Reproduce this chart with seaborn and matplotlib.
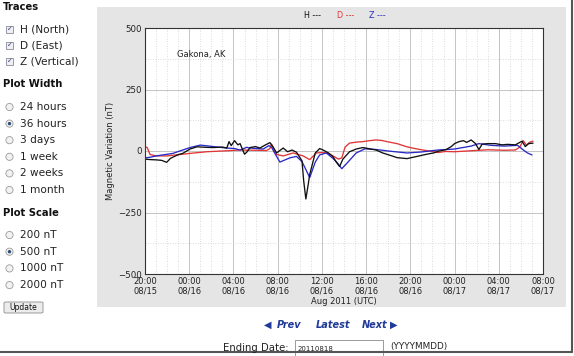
import numpy as np
import pandas as pd
import matplotlib
matplotlib.use("Agg")
import matplotlib.pyplot as plt
import seaborn as sns
from matplotlib.patches import Rectangle, Ellipse, FancyBboxPatch
from matplotlib.lines import Line2D

sns.set_theme(style="white")
plt.rcParams['font.family'] = ['DejaVu Sans']

# ---------------- data (hours since 2011-08-15 20:00 UTC, nT) ----------------
h_hours = [0.0, 0.5, 1.0, 1.5, 1.96, 2.3, 3.0, 3.4, 4.07, 4.7, 5.5, 6.2, 7.0, 7.4, 7.6, 7.8,
           8.1, 8.4, 8.6, 9.0, 9.2, 9.5, 10.0, 10.4, 10.9, 11.3, 11.6, 11.9, 12.5, 12.9,
           13.3, 13.7, 14.2, 14.35, 14.55, 14.75, 14.9, 15.4, 15.8, 16.2, 16.6, 17.0,
           17.3, 17.6, 17.9, 18.5, 19.1, 19.7, 20.3, 20.9, 21.5, 22.2, 22.8, 23.7, 24.3,
           25.0, 25.6, 26.1, 26.6, 27.2, 27.7, 28.0, 28.4, 28.8, 29.1, 29.5, 29.9, 30.2,
           30.5, 31.0, 31.7, 32.3, 32.8, 33.5, 34.1, 34.4, 34.7, 35.1]
h_values = [-33, -35, -36, -38, -46, -30, -15, -10, 8, 17, 15, 14, 16, 12, 38, 22,
            42, 25, 30, -13, -5, 14, 18, 12, 25, 34, 15, -8, 12, -3,
            4, -5, -40, -120, -195, -140, -95, -8, 10, 2, -8, -23,
            -45, -63, -33, -3, 8, 14, 9, 4, -8, -18, -27, -31, -25,
            -18, -12, -8, 0, 5, 18, 30, 38, 42, 35, 45, 30, 6,
            28, 30, 30, 25, 27, 25, 40, 18, 30, 32]

d_hours = [0.0, 0.2, 0.45, 1.0, 2.0, 3.0, 4.0, 5.6, 7.0, 8.6, 10.0, 11.0, 11.3, 11.45,
           11.9, 12.5, 13.4, 14.3, 14.9, 15.5, 16.1, 16.6, 17.0, 17.5, 17.8, 18.1, 18.5,
           19.1, 19.7, 20.3, 20.9, 21.4, 21.9, 22.8, 23.7, 24.3, 25.0, 25.7, 26.5, 27.2,
           28.0, 29.5, 31.0, 32.5, 33.5, 33.9, 34.2, 34.5, 34.8, 35.1]
d_values = [18, 14, -14, -20, -20, -15, -10, -3, 0, 4, 3, 2, 10, 28,
            -14, -20, -8, -20, -35, -8, -6, -10, -20, -33, -28, 16, 32,
            36, 38, 42, 45, 43, 38, 30, 17, 11, 5, 0, -6, -2,
            -3, 1, 5, 3, 4, 16, 42, 24, 36, 40]

z_hours = [0.0, 0.5, 1.0, 2.5, 4.07, 5.0, 6.2, 7.4, 8.1, 8.6, 9.2, 9.5, 10.7, 11.2,
           11.45, 11.75, 12.2, 13.1, 13.7, 14.2, 14.6, 14.9, 15.4, 15.8, 16.4, 17.0,
           17.4, 17.8, 18.4, 19.1, 19.9, 20.9, 22.2, 23.7, 25.0, 26.5, 28.0, 29.5, 30.2,
           31.3, 32.5, 33.7, 34.2, 34.6, 35.0]
z_values = [-28, -25, -20, -10, 14, 24, 18, 12, 10, 4, 15, 12, 8, 22,
            15, -10, -45, -28, -22, -43, -80, -108, -45, -16, -8, -30,
            -48, -72, -43, -8, 9, 6, -1, -8, -4, 4, 8, 20, 30,
            23, 20, 23, 5, -8, -16]

trace_names = ["H", "D", "Z"]
trace_colors = ["#111111", "#e03535", "#2a2ac8"]
legend_labels = ["H ---", "D ---", "Z ---"]

x_tick_hours = [0, 4, 8, 12, 16, 20, 24, 28, 32, 36]
x_tick_labels = ["20:00\n08/15", "00:00\n08/16", "04:00\n08/16", "08:00\n08/16",
                 "12:00\n08/16", "16:00\n08/16", "20:00\n08/16", "00:00\n08/17",
                 "04:00\n08/17", "08:00\n08/17"]
y_ticks = [-500, -250, 0, 250, 500]

trace_options = ["H (North)", "D (East)", "Z (Vertical)"]
width_options = ["24 hours", "36 hours", "3 days", "1 week", "2 weeks", "1 month"]
scale_options = ["200 nT", "500 nT", "1000 nT", "2000 nT"]
width_selected = "36 hours"
scale_selected = "500 nT"

# ---------------- figure ----------------
W, H = 574, 356
fig = plt.figure(figsize=(W / 100, H / 100), dpi=100)
fig.patch.set_facecolor("white")

def fx(px):
    return px / W

def fy(py):
    return 1 - py / H

# grey chart panel (background axes)
bg = fig.add_axes([fx(97), fy(307), fx(566) - fx(97), fy(7) - fy(307)], zorder=0)
bg.set_facecolor("#e5e5e5")
bg.set_xticks([])
bg.set_yticks([])
for s in bg.spines.values():
    s.set_visible(False)

ax = fig.add_axes([fx(145), fy(274), fx(543) - fx(145), fy(28) - fy(274)], zorder=2)
ax.set_facecolor("white")

df = pd.concat([
    pd.DataFrame({"hour": h_hours, "value": h_values, "trace": "H"}),
    pd.DataFrame({"hour": d_hours, "value": d_values, "trace": "D"}),
    pd.DataFrame({"hour": z_hours, "value": z_values, "trace": "Z"}),
], ignore_index=True)

sns.lineplot(data=df, x="hour", y="value", hue="trace",
             hue_order=["D", "Z", "H"],
             palette=dict(zip(trace_names, trace_colors)),
             estimator=None, sort=False, linewidth=0.95, legend=False, ax=ax)

ax.set_xlim(0, 36)
ax.set_ylim(-500, 500)
ax.set_xticks(x_tick_hours)
ax.set_xticklabels(x_tick_labels, fontsize=6, color="#222222", linespacing=1.15)
ax.set_yticks(y_ticks)
ax.set_yticklabels([str(v) if v >= 0 else "\u2212" + str(-v) for v in y_ticks],
                   fontsize=6.2, color="#222222")
ax.set_xticks(np.arange(0, 37, 1), minor=True)
ax.set_yticks(np.arange(-500, 501, 125), minor=True)
ax.grid(which="major", color="#c4c4c4", linewidth=0.7, linestyle="-")
ax.grid(which="minor", color="#d0d0d0", linewidth=0.6, linestyle=(0, (1, 2)))
ax.set_axisbelow(True)
ax.tick_params(which="both", length=0, pad=2)
for s in ax.spines.values():
    s.set_color("#333333")
    s.set_linewidth(0.8)
ax.set_xlabel("Aug 2011 (UTC)", fontsize=6, color="#222222", labelpad=1)
ax.set_ylabel("Magnetic Variation (nT)", fontsize=6, color="#222222", labelpad=2.5)
ax.text(0.08, 0.893, "Gakona, AK", transform=ax.transAxes, fontsize=6,
        color="#222222", va="center", ha="left")

# legend at top of panel
leg_x = [313, 346, 377]
for lx, lab, col in zip(leg_x, legend_labels, trace_colors):
    fig.text(fx(lx), fy(15), lab, fontsize=5.8, color=col, ha="center", va="center")

# ---------------- sidebar ----------------
def heading(y, s):
    fig.text(fx(3), fy(y), s, fontsize=7.2, fontweight="bold", color="#111111",
             ha="left", va="center")

def checkbox(y):
    fig.patches.append(Rectangle((fx(6), fy(y + 3.5)), fx(7), fy(0) - fy(7),
                                 transform=fig.transFigure, facecolor="#f0f0f4",
                                 edgecolor="#8a8a9a", linewidth=0.6))
    fig.text(fx(9.5), fy(y), "\u2713", fontsize=5, color="#334477",
             ha="center", va="center")

def radio(y, sel):
    fig.patches.append(Ellipse((fx(9.5), fy(y)), 7.2 / W, 7.2 / H,
                               transform=fig.transFigure,
                               facecolor="#f2f2f2", edgecolor="#9a9a9a", linewidth=0.6))
    if sel:
        fig.patches.append(Ellipse((fx(9.5), fy(y)), 3.4 / W, 3.4 / H,
                                   transform=fig.transFigure,
                                   facecolor="#2a4f7a", edgecolor="none"))

heading(7.5, "Traces")
for i, s in enumerate(trace_options):
    y = 29 + i * 16
    checkbox(y)
    fig.text(fx(20), fy(y), s, fontsize=7.6, color="#222222", ha="left", va="center")

heading(84, "Plot Width")
for i, s in enumerate(width_options):
    y = 107 + i * 16.6
    radio(y, s == width_selected)
    fig.text(fx(20), fy(y), s, fontsize=7.6, color="#222222", ha="left", va="center")

heading(213, "Plot Scale")
for i, s in enumerate(scale_options):
    y = 235 + i * 16.7
    radio(y, s == scale_selected)
    fig.text(fx(20), fy(y), s, fontsize=7.6, color="#222222", ha="left", va="center")

fig.patches.append(FancyBboxPatch((fx(4), fy(313)), fx(39), fy(0) - fy(11),
                                  boxstyle="round,pad=0,rounding_size=0.003",
                                  transform=fig.transFigure, facecolor="#ececec",
                                  edgecolor="#8c8c8c", linewidth=0.6))
fig.text(fx(23.5), fy(307.5), "Update", fontsize=5.5, color="#111111",
         ha="center", va="center")

# ---------------- navigation ----------------
nav_col = "#1f3a99"
fig.text(fx(264), fy(325), "\u25C0", fontsize=7, color=nav_col, ha="left", va="center")
fig.text(fx(277), fy(325), "Prev", fontsize=7, color=nav_col, ha="left", va="center",
         fontweight="bold", fontstyle="italic")
fig.text(fx(316), fy(325), "Latest", fontsize=7, color=nav_col, ha="left", va="center",
         fontweight="bold", fontstyle="italic")
fig.text(fx(362), fy(325), "Next", fontsize=7, color=nav_col, ha="left", va="center",
         fontweight="bold", fontstyle="italic")
fig.text(fx(390), fy(325), "\u25B6", fontsize=7, color=nav_col, ha="left", va="center")

fig.text(fx(223), fy(348), "Ending Date:", fontsize=7.3, color="#222222",
         ha="left", va="center")
fig.patches.append(Rectangle((fx(295), fy(356)), fx(88), fy(0) - fy(16),
                             transform=fig.transFigure, facecolor="white",
                             edgecolor="#9a9a9a", linewidth=0.7))
fig.text(fx(298), fy(349), "20110818", fontsize=5, color="#222222",
         ha="left", va="center")
fig.text(fx(390), fy(347), "(YYYYMMDD)", fontsize=6.4, color="#222222",
         ha="left", va="center")

# screenshot frame edges
fig.lines.append(Line2D([fx(572), fx(572)], [fy(0), fy(352)], transform=fig.transFigure,
                        color="#555555", linewidth=1.5))
fig.lines.append(Line2D([fx(0), fx(572)], [fy(352), fy(352)], transform=fig.transFigure,
                        color="#555555", linewidth=1.5))

fig.savefig("out.png", dpi=100, facecolor="white")
